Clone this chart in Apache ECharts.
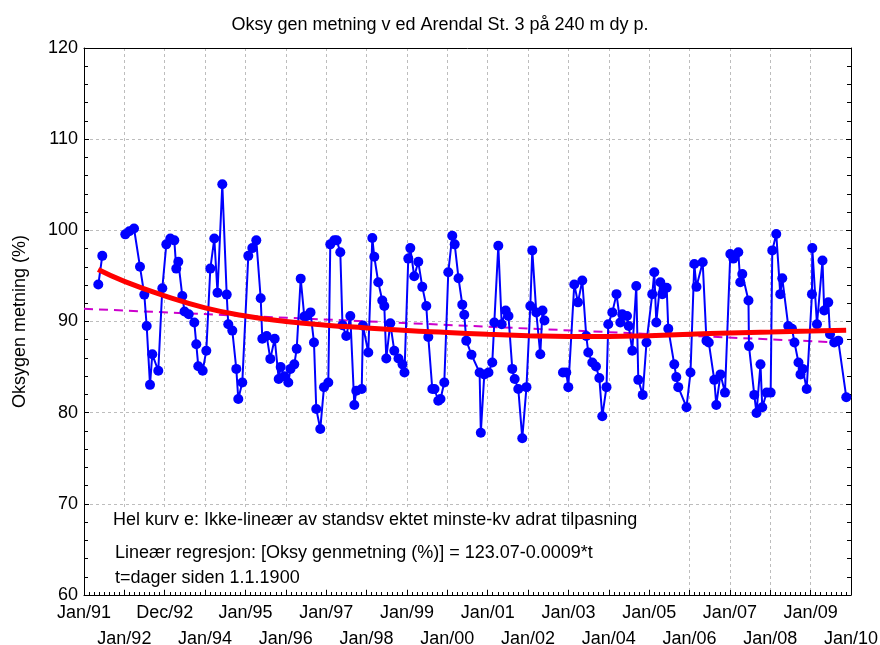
<!DOCTYPE html>
<html>
<head>
<meta charset="utf-8">
<script src="https://cdn.jsdelivr.net/npm/echarts@6/dist/echarts.min.js"></script>
<style>html,body{margin:0;padding:0;background:#fff}#c{width:880px;height:645px}</style>
</head>
<body>
<div id="c"></div>
<script>
// Tick labels (one per year, 1991..2010)
const xTickLabels = ['Jan/91','Jan/92','Dec/92','Jan/94','Jan/95','Jan/96','Jan/97','Jan/98','Jan/99','Jan/00',
  'Jan/01','Jan/02','Jan/03','Jan/04','Jan/05','Jan/06','Jan/07','Jan/08','Jan/09','Jan/10'];

// Sampling times (decimal year) and oxygen saturation (%); null = gap in series
const sampleYears = [
 1991.354,1991.453,1991.75,
 1992.023,1992.122,1992.239,1992.387,1992.494,1992.553,1992.635,1992.692,1992.840,1992.940,
 1993.039,1993.138,1993.237,1993.286,1993.336,1993.435,1993.490,1993.594,1993.732,1993.782,1993.831,1993.940,
 1994.030,1994.129,1994.228,1994.307,1994.426,1994.535,1994.574,1994.674,1994.773,1994.822,1994.921,
 1995.070,1995.169,1995.268,1995.377,1995.417,1995.526,1995.615,1995.724,1995.823,1995.872,1995.962,
 1996.061,1996.115,1996.209,1996.269,1996.368,1996.457,1996.524,1996.611,1996.697,1996.754,1996.853,1996.945,
 1997.052,1997.101,1997.200,1997.260,1997.349,1997.403,1997.497,1997.597,1997.696,1997.745,1997.880,1997.910,
 1998.042,1998.142,1998.191,1998.290,1998.389,1998.439,1998.488,1998.587,1998.686,1998.790,1998.890,1998.939,
 1999.033,1999.083,1999.180,1999.281,1999.380,1999.479,1999.529,1999.628,1999.682,1999.776,1999.831,1999.925,
 2000.024,2000.123,2000.183,2000.277,2000.371,2000.420,2000.470,2000.599,2000.800,2000.830,2000.916,
 2001.020,2001.114,2001.164,2001.263,2001.347,2001.446,2001.515,2001.609,2001.669,2001.758,2001.857,2001.961,
 2002.056,2002.105,2002.204,2002.303,2002.358,2002.407,2002.60,2002.865,2002.947,2002.997,
 2003.145,2003.237,2003.343,2003.442,2003.492,2003.591,2003.683,2003.765,2003.839,2003.943,2003.987,
 2004.087,2004.191,2004.285,2004.334,2004.451,2004.493,2004.582,2004.681,2004.731,2004.840,2004.934,
 2005.077,2005.127,2005.177,2005.276,2005.325,2005.434,2005.474,2005.622,2005.672,2005.721,2005.925,
 2006.024,2006.118,2006.172,2006.326,2006.420,2006.477,2006.613,2006.663,2006.767,2006.878,
 2007.010,2007.084,2007.114,2007.208,2007.257,2007.307,2007.460,2007.473,2007.604,2007.659,2007.758,2007.802,2007.911,
 2008.010,2008.050,2008.149,2008.248,2008.297,2008.446,2008.538,2008.600,2008.699,2008.749,2008.803,2008.902,
 2009.033,2009.041,2009.157,2009.294,2009.336,2009.437,2009.480,2009.584,2009.685,2009.883
];
const oxygen = [
 94.05,97.2,null,
 99.56,99.9,100.2,96.0,92.95,89.5,83.05,86.4,84.6,93.65,
 98.46,99.1,98.9,95.8,96.55,92.8,91.1,90.8,89.9,87.5,85.1,84.6,
 86.8,95.8,99.1,93.15,105.06,92.95,89.7,89.0,84.8,81.5,83.3,
 97.2,98.05,98.9,92.55,88.1,88.4,85.9,88.1,83.7,85.0,84.0,
 83.3,84.8,85.3,87.0,94.7,90.55,90.6,91.0,87.7,80.4,78.2,82.8,
 83.3,98.46,98.9,98.9,97.6,89.6,88.4,90.6,80.85,82.4,82.6,89.55,
 86.6,99.15,97.1,94.3,92.3,91.7,85.95,89.8,86.8,85.95,85.3,84.4,
 96.9,98.05,94.97,96.55,93.8,91.7,88.3,82.6,82.6,81.3,81.5,83.3,
 95.4,99.4,98.46,94.75,91.85,90.75,87.9,86.35,84.4,77.8,84.2,
 84.4,85.5,89.9,98.3,89.7,91.2,90.6,84.8,83.7,82.6,77.2,82.8,
 91.7,97.8,91.0,86.4,91.2,90.1,null,84.4,84.4,82.8,
 94.05,92.1,94.5,88.4,86.6,85.5,85.06,83.8,79.6,82.8,89.7,
 91.0,93.0,89.9,90.8,90.6,89.5,86.8,93.9,83.6,81.95,87.7,
 93.0,95.4,89.9,94.3,93.0,93.7,89.2,85.3,83.9,82.8,80.6,
 84.4,96.3,93.8,96.5,87.9,87.7,83.6,80.85,84.2,82.2,
 97.4,96.9,97.1,97.6,94.3,95.2,92.3,87.3,81.95,79.96,85.3,80.6,82.2,
 82.2,97.8,99.6,93.0,94.75,89.5,89.2,87.7,85.5,84.2,84.8,82.6,
 93.0,98.05,89.7,96.7,91.2,92.1,88.6,87.7,87.9,81.7
];

// Distance-weighted least squares curve
const smoothYears  = [1991.35,1992,1993,1994,1995,1996,1997,1998,1999,2000,2001,2002,2003,2004,2005,2006,2007,2008,2009,2009.88];
const smoothValues = [95.7,94.4,92.8,91.5,90.6,90.0,89.6,89.3,89.0,88.8,88.6,88.45,88.35,88.35,88.45,88.6,88.75,88.85,88.95,89.05];

// Linear regression line end points
const regYears  = [1991.0, 2009.88];
const regValues = [91.4, 87.67];

const FONT = 'Liberation Sans, Arial, sans-serif';
const FS = 18;
const zip = (a, b) => a.map((x, i) => [x, b[i]]);
const labelAt = (v, wantOdd) => {
  const i = Math.round(v - 1991);
  return ((i % 2 === 1) === wantOdd) ? (xTickLabels[i] || '') : '';
};

const chart = echarts.init(document.getElementById('c'), null, {renderer: 'canvas'});
chart.setOption({
  backgroundColor: '#fff',
  animation: false,
  title: {
    text: 'Oksy gen metning v ed Arendal St. 3 på 240 m dy p.',
    left: 'center', top: 11,
    textStyle: {fontFamily: FONT, fontSize: FS, fontWeight: 'normal', color: '#000'}
  },
  grid: {left: 84, right: 29, top: 48, bottom: 50, show: false, containLabel: false, outerBoundsMode: 'none'},
  xAxis: [{
    type: 'value', min: 1991, max: 2010, interval: 1,
    axisLine: {show: true, onZero: false, lineStyle: {color: '#000', width: 1}},
    axisTick: {show: true, inside: true, length: 5, lineStyle: {color: '#000'}},
    minorTick: {show: true, splitNumber: 8, length: 3, lineStyle: {color: '#000'}},
    splitLine: {show: true, lineStyle: {color: '#bdbdbd', type: [3, 3], width: 1}},
    axisLabel: {
      margin: 9, fontFamily: FONT, fontSize: FS, color: '#000',
      showMinLabel: true, showMaxLabel: true, hideOverlap: false,
      formatter: (v) => labelAt(v, false)
    }
  }, {
    type: 'value', min: 1991, max: 2010, interval: 1, position: 'top',
    axisLine: {show: true, onZero: false, lineStyle: {color: '#000', width: 1}},
    axisTick: {show: false}, axisLabel: {show: false}, splitLine: {show: false}
  }, {
    type: 'value', min: 1991, max: 2010, interval: 1, position: 'bottom', offset: 26,
    axisLine: {show: false}, axisTick: {show: false}, splitLine: {show: false},
    axisLabel: {
      margin: 9, fontFamily: FONT, fontSize: FS, color: '#000',
      showMinLabel: true, showMaxLabel: true, hideOverlap: false,
      formatter: (v) => labelAt(v, true)
    }
  }],
  yAxis: [{
    type: 'value', min: 60, max: 120, interval: 10,
    name: 'Oksygen metning (%)', nameLocation: 'middle', nameGap: 55, nameRotate: 90,
    nameTextStyle: {fontFamily: FONT, fontSize: FS, color: '#000'},
    axisLine: {show: true, onZero: false, lineStyle: {color: '#000', width: 1}},
    axisTick: {show: true, inside: true, length: 5, lineStyle: {color: '#000'}},
    minorTick: {show: true, splitNumber: 5, length: 4, lineStyle: {color: '#000'}},
    splitLine: {show: true, lineStyle: {color: '#bdbdbd', type: [3, 3], width: 1}},
    axisLabel: {margin: 6, fontFamily: FONT, fontSize: FS, color: '#000', showMinLabel: true, showMaxLabel: true}
  }, {
    type: 'value', min: 60, max: 120, interval: 10, position: 'right',
    axisLine: {show: true, onZero: false, lineStyle: {color: '#000', width: 1}},
    axisTick: {show: true, inside: true, length: 5, lineStyle: {color: '#000'}},
    minorTick: {show: true, splitNumber: 5, length: 4, lineStyle: {color: '#000'}},
    axisLabel: {show: false}, splitLine: {show: false}
  }],
  graphic: [
    {type: 'rect', left: 90, top: 507, shape: {width: 560, height: 82}, style: {fill: '#fff'}, z: 5},
    {type: 'text', left: 113, top: 511, z: 6,
     style: {text: 'Hel kurv e: Ikke-lineær av standsv ektet minste-kv adrat tilpasning', font: FS + 'px ' + FONT, fill: '#000'}},
    {type: 'text', left: 115, top: 544, z: 6,
     style: {text: 'Lineær regresjon: [Oksy genmetning (%)] = 123.07-0.0009*t', font: FS + 'px ' + FONT, fill: '#000'}},
    {type: 'text', left: 115, top: 569, z: 6,
     style: {text: 't=dager siden 1.1.1900', font: FS + 'px ' + FONT, fill: '#000'}}
  ],
  series: [{
    type: 'line', name: 'regresjon', data: zip(regYears, regValues),
    showSymbol: false, symbol: 'none', z: 2,
    lineStyle: {color: '#cc00cc', width: 2, type: [9, 6]}
  }, {
    type: 'line', name: 'Oksygen', data: zip(sampleYears, oxygen), connectNulls: false,
    symbol: 'circle', symbolSize: 10, z: 3,
    itemStyle: {color: '#0000ff'}, lineStyle: {color: '#0000ff', width: 2}
  }, {
    type: 'line', name: 'kurve', data: zip(smoothYears, smoothValues), smooth: true,
    symbol: 'none', z: 4,
    lineStyle: {color: '#ff0000', width: 5}
  }]
});
</script>
</body>
</html>
